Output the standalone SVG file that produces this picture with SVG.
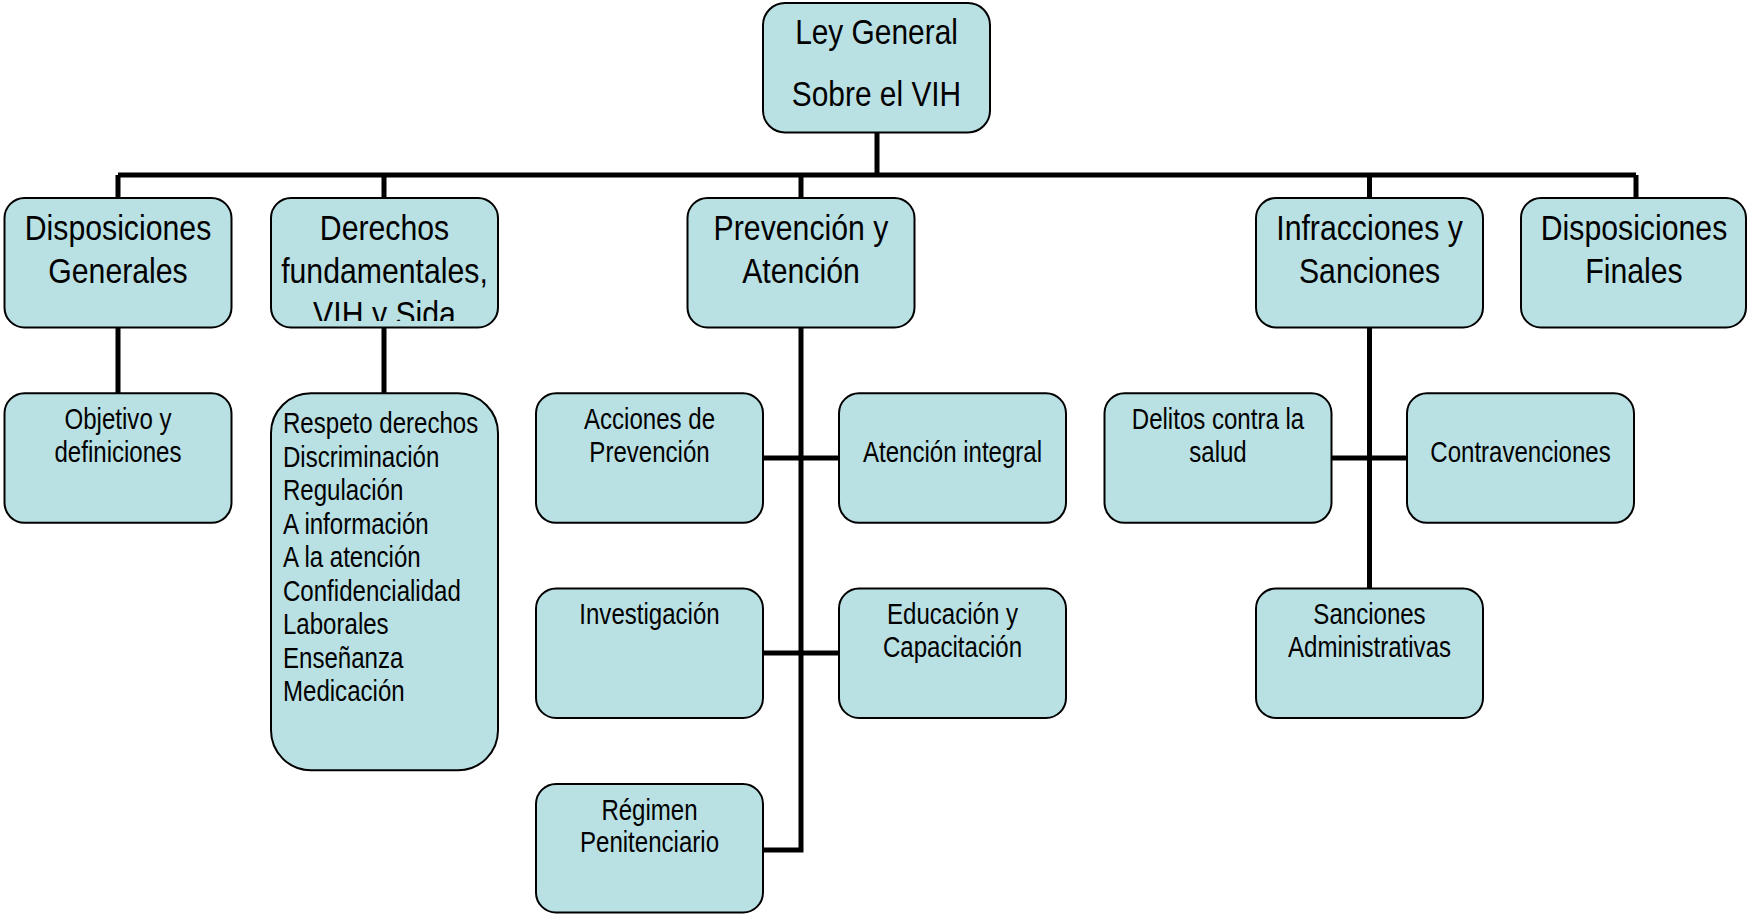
<svg xmlns="http://www.w3.org/2000/svg" width="1747" height="914" viewBox="0 0 1747 914">
<style>
.box{fill:#B9E0E3;stroke:#000;stroke-width:2}
.t1{font-family:'Liberation Sans',Arial,sans-serif;font-size:36px;fill:#000;text-anchor:middle}
.t2{font-family:'Liberation Sans',Arial,sans-serif;font-size:29px;fill:#000;text-anchor:middle}
.tl{font-family:'Liberation Sans',Arial,sans-serif;font-size:29px;fill:#000}
.con{fill:none;stroke:#000;stroke-width:5}
</style>
<defs>
<clipPath id="clipDer"><rect x="271" y="198" width="227" height="123"/></clipPath>
</defs>
<rect width="1747" height="914" fill="#fff"/>
<g id="connectors">
<path class="con" d="M877 132 V175 M118 175 H1636 M118 175 V198 M384 175 V198 M801 175 V198 M1369.5 175 V198 M1636 175 V198"/>
<path class="con" d="M118 327 V393"/>
<path class="con" d="M384 327 V393"/>
<path class="con" d="M801 327 V850 H763"/>
<path class="con" d="M763 458 H839 M763 653 H839"/>
<path class="con" d="M1369.5 327 V589"/>
<path class="con" d="M1331.5 458 H1407"/>
</g>
<g id="root">
<rect class="box" x="763" y="3" width="227" height="129.5" rx="22"/>
<text class="t1" transform="translate(876.5 44) scale(0.83 1)">Ley General</text>
<text class="t1" transform="translate(876.5 106) scale(0.83 1)">Sobre el VIH</text>
</g>
<g id="disp-generales">
<rect class="box" x="4.5" y="198" width="227" height="129.5" rx="20"/>
<text class="t1" transform="translate(118 240) scale(0.84 1)">Disposiciones</text>
<text class="t1" transform="translate(118 283) scale(0.84 1)">Generales</text>
</g>
<g id="derechos">
<rect class="box" x="271" y="198" width="227" height="129.5" rx="20"/>
<g clip-path="url(#clipDer)">
<text class="t1" transform="translate(384.5 240) scale(0.84 1)">Derechos</text>
<text class="t1" transform="translate(384.5 283) scale(0.84 1)">fundamentales,</text>
<text class="t1" transform="translate(384.5 326) scale(0.84 1)">VIH y Sida</text>
</g>
</g>
<g id="prevencion">
<rect class="box" x="687.5" y="198" width="227" height="129.5" rx="20"/>
<text class="t1" transform="translate(801 240) scale(0.84 1)">Prevención y</text>
<text class="t1" transform="translate(801 283) scale(0.84 1)">Atención</text>
</g>
<g id="infracciones">
<rect class="box" x="1256" y="198" width="227" height="129.5" rx="20"/>
<text class="t1" transform="translate(1369.5 240) scale(0.84 1)">Infracciones y</text>
<text class="t1" transform="translate(1369.5 283) scale(0.84 1)">Sanciones</text>
</g>
<g id="disp-finales">
<rect class="box" x="1521" y="198" width="225" height="129.5" rx="20"/>
<text class="t1" transform="translate(1634 240) scale(0.84 1)">Disposiciones</text>
<text class="t1" transform="translate(1634 283) scale(0.84 1)">Finales</text>
</g>
<g id="objetivo">
<rect class="box" x="4.5" y="393.3" width="227" height="129.5" rx="20"/>
<text class="t2" transform="translate(118 429) scale(0.83 1)">Objetivo y</text>
<text class="t2" transform="translate(118 461.5) scale(0.83 1)">definiciones</text>
</g>
<g id="lista-derechos">
<rect class="box" x="271" y="393.3" width="227" height="377" rx="40"/>
<text class="tl" transform="translate(283 433) scale(0.83 1)">Respeto derechos</text>
<text class="tl" transform="translate(283 466.5) scale(0.83 1)">Discriminación</text>
<text class="tl" transform="translate(283 500) scale(0.83 1)">Regulación</text>
<text class="tl" transform="translate(283 533.5) scale(0.83 1)">A información</text>
<text class="tl" transform="translate(283 567) scale(0.83 1)">A la atención</text>
<text class="tl" transform="translate(283 600.5) scale(0.83 1)">Confidencialidad</text>
<text class="tl" transform="translate(283 634) scale(0.83 1)">Laborales</text>
<text class="tl" transform="translate(283 667.5) scale(0.83 1)">Enseñanza</text>
<text class="tl" transform="translate(283 701) scale(0.83 1)">Medicación</text>
</g>
<g id="acciones">
<rect class="box" x="536" y="393.3" width="227" height="129.5" rx="20"/>
<text class="t2" transform="translate(649.5 429) scale(0.83 1)">Acciones de</text>
<text class="t2" transform="translate(649.5 461.5) scale(0.83 1)">Prevención</text>
</g>
<g id="atencion">
<rect class="box" x="839" y="393.3" width="227" height="129.5" rx="20"/>
<text class="t2" transform="translate(952.5 461.5) scale(0.83 1)">Atención integral</text>
</g>
<g id="investigacion">
<rect class="box" x="536" y="588.5" width="227" height="129.5" rx="20"/>
<text class="t2" transform="translate(649.5 624) scale(0.83 1)">Investigación</text>
</g>
<g id="educacion">
<rect class="box" x="839" y="588.5" width="227" height="129.5" rx="20"/>
<text class="t2" transform="translate(952.5 624) scale(0.83 1)">Educación y</text>
<text class="t2" transform="translate(952.5 656.5) scale(0.83 1)">Capacitación</text>
</g>
<g id="regimen">
<rect class="box" x="536" y="784" width="227" height="128.5" rx="20"/>
<text class="t2" transform="translate(649.5 819.5) scale(0.83 1)">Régimen</text>
<text class="t2" transform="translate(649.5 852) scale(0.83 1)">Penitenciario</text>
</g>
<g id="delitos">
<rect class="box" x="1104.5" y="393.3" width="227" height="129.5" rx="20"/>
<text class="t2" transform="translate(1218 429) scale(0.83 1)">Delitos contra la</text>
<text class="t2" transform="translate(1218 461.5) scale(0.83 1)">salud</text>
</g>
<g id="contravenciones">
<rect class="box" x="1407" y="393.3" width="227" height="129.5" rx="20"/>
<text class="t2" transform="translate(1520.5 461.5) scale(0.83 1)">Contravenciones</text>
</g>
<g id="sanciones-adm">
<rect class="box" x="1256" y="588.5" width="227" height="129.5" rx="20"/>
<text class="t2" transform="translate(1369.5 624) scale(0.83 1)">Sanciones</text>
<text class="t2" transform="translate(1369.5 656.5) scale(0.83 1)">Administrativas</text>
</g>
</svg>
